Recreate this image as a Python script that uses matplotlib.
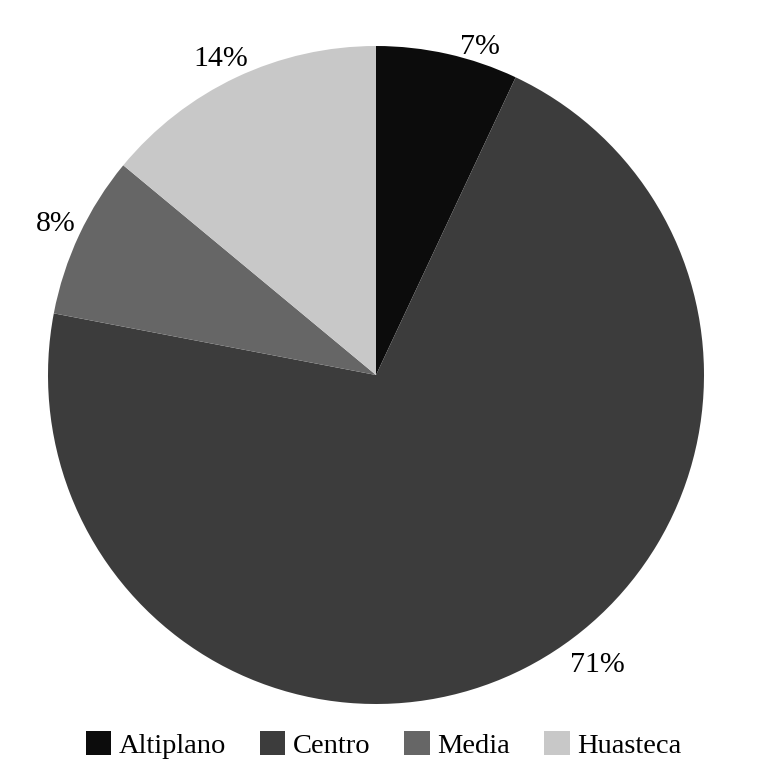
import numpy as np
import matplotlib.pyplot as plt
from matplotlib.patches import Patch

# Data
regions = ["Altiplano", "Centro", "Media", "Huasteca"]
shares = [7, 71, 8, 14]
colors = ["#0c0c0c", "#3c3c3c", "#666666", "#c8c8c8"]
pct_labels = ["7%", "71%", "8%", "14%"]

plt.rcParams['font.family'] = ['Liberation Serif', 'DejaVu Serif']

fig = plt.figure(figsize=(7.62, 7.82), dpi=100)
ax = fig.add_axes([48 / 762, 78 / 782, 656 / 762, 658 / 782])

wedges, _ = ax.pie(shares, colors=colors, startangle=90, counterclock=False,
                   wedgeprops=dict(linewidth=0))

# Percent labels outside the slices (two of them nudged like the original)
angle_shift = [-5, 10.4, 0, 1]
label_r = [1.045, 1.11, 1.08, 1.07]
for w, txt, da, r in zip(wedges, pct_labels, angle_shift, label_r):
    ang = np.deg2rad((w.theta1 + w.theta2) / 2 + da)
    ax.text(r * np.cos(ang), r * np.sin(ang), txt, ha='center', va='center',
            fontsize=21.5)

ax.set_xlim(-1, 1)
ax.set_ylim(-1, 1)
ax.set_aspect('auto')

handles = [Patch(facecolor=c, edgecolor='none') for c in colors]
fig.legend(handles, regions, loc='center', bbox_to_anchor=(0.503, 0.047), ncol=4,
           frameon=False, fontsize=20.5, handlelength=0.9, handleheight=0.9,
           handletextpad=0.25, columnspacing=1.2)

fig.savefig("out.png", dpi=100)
